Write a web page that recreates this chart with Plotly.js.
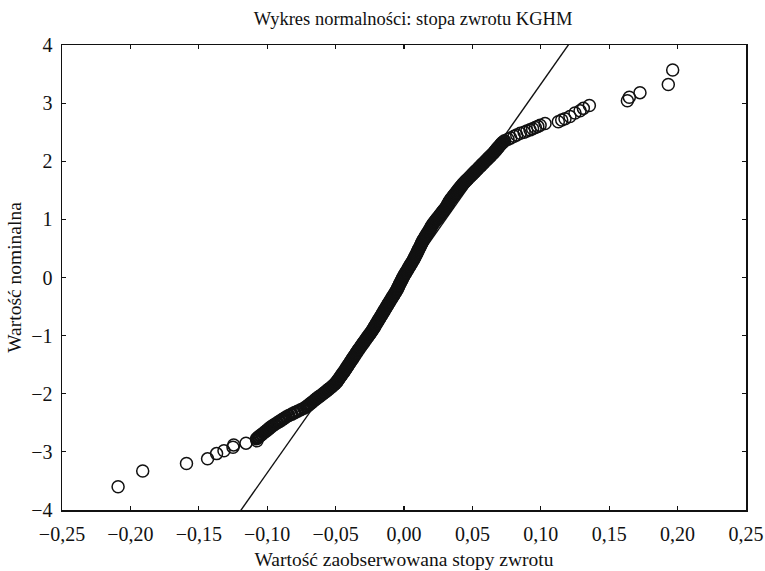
<!DOCTYPE html>
<html>
<head>
<meta charset="utf-8">
<script src="https://cdn.plot.ly/plotly-3.0.1.min.js"></script>
<style>html,body{margin:0;padding:0;background:#fff;}#chart{width:765px;height:571px;}</style>
</head>
<body>
<div id="chart"></div>
<script>
// Lower tail (observed return, normal quantile)
const lowerTailX = [-0.209, -0.191, -0.159, -0.1436, -0.137, -0.1316, -0.125, -0.1245, -0.1155, -0.1075];
const lowerTailY = [-3.60, -3.33, -3.20, -3.12, -3.03, -2.98, -2.92, -2.88, -2.85, -2.81];

// Dense body of the distribution (normal quantile, observed return)
const bodyY = [
  -2.775,-2.75,-2.725,-2.70,-2.675,-2.65,-2.625,-2.60,-2.575,-2.55,
  -2.525,-2.50,-2.475,-2.45,-2.425,-2.40,-2.375,-2.35,-2.325,-2.30,
  -2.275,-2.25,-2.225,-2.20,-2.175,-2.15,-2.125,-2.10,-2.075,-2.05,
  -2.025,-2.00,-1.975,-1.95,-1.925,-1.90,-1.875,-1.85,-1.825,-1.80,
  -1.775,-1.75,-1.725,-1.70,-1.675,-1.65,-1.625,-1.60,-1.575,-1.55,
  -1.525,-1.50,-1.475,-1.45,-1.425,-1.40,-1.375,-1.35,-1.325,-1.30,
  -1.275,-1.25,-1.225,-1.20,-1.175,-1.15,-1.125,-1.10,-1.075,-1.05,
  -1.025,-1.00,-0.975,-0.95,-0.925,-0.90,-0.875,-0.85,-0.825,-0.80,
  -0.775,-0.75,-0.725,-0.70,-0.675,-0.65,-0.625,-0.60,-0.575,-0.55,
  -0.525,-0.50,-0.475,-0.45,-0.425,-0.40,-0.375,-0.35,-0.325,-0.30,
  -0.275,-0.25,-0.225,-0.20,-0.175,-0.15,-0.125,-0.10,-0.075,-0.05,
  -0.025,0.00,0.025,0.05,0.075,0.10,0.125,0.15,0.175,0.20,
  0.225,0.25,0.275,0.30,0.325,0.35,0.375,0.40,0.425,0.45,
  0.475,0.50,0.525,0.55,0.575,0.60,0.625,0.65,0.675,0.70,
  0.725,0.75,0.775,0.80,0.825,0.85,0.875,0.90,0.925,0.95,
  0.975,1.00,1.025,1.05,1.075,1.10,1.125,1.15,1.175,1.20,
  1.225,1.25,1.275,1.30,1.325,1.35,1.375,1.40,1.425,1.45,
  1.475,1.50,1.525,1.55,1.575,1.60,1.625,1.65,1.675,1.70,
  1.725,1.75,1.775,1.80,1.825,1.85,1.875,1.90,1.925,1.95,
  1.975,2.00,2.025,2.05,2.075,2.10,2.125,2.15,2.175,2.20,
  2.225,2.25,2.275,2.30,2.325,2.35,2.38,2.40,2.43,2.45,
  2.48,2.50,2.52,2.54,2.56,2.58,2.60,2.62];
const bodyX = [
  -0.1078,-0.1066,-0.1053,-0.1040,-0.1027,-0.1013,-0.1000,-0.0987,-0.0974,-0.0960,
  -0.0944,-0.0926,-0.0910,-0.0893,-0.0878,-0.0862,-0.0842,-0.0820,-0.0799,-0.0778,
  -0.0755,-0.0732,-0.0715,-0.0700,-0.0687,-0.0674,-0.0661,-0.0648,-0.0635,-0.0620,
  -0.0606,-0.0592,-0.0578,-0.0565,-0.0552,-0.0539,-0.0526,-0.0514,-0.0503,-0.0493,
  -0.0485,-0.0478,-0.0470,-0.0463,-0.0455,-0.0448,-0.0440,-0.0433,-0.0426,-0.0419,
  -0.0412,-0.0405,-0.0398,-0.0391,-0.0384,-0.0377,-0.0370,-0.0363,-0.0356,-0.0349,
  -0.0342,-0.0335,-0.0327,-0.0320,-0.0312,-0.0305,-0.0297,-0.0290,-0.0282,-0.0275,
  -0.0267,-0.0259,-0.0251,-0.0243,-0.0236,-0.0229,-0.0222,-0.0216,-0.0210,-0.0204,
  -0.0197,-0.0191,-0.0184,-0.0178,-0.0171,-0.0165,-0.0158,-0.0152,-0.0146,-0.0140,
  -0.0133,-0.0127,-0.0120,-0.0114,-0.0107,-0.0101,-0.0094,-0.0088,-0.0081,-0.0075,
  -0.0068,-0.0062,-0.0055,-0.0049,-0.0044,-0.0039,-0.0034,-0.0029,-0.0023,-0.0018,
  -0.0013,-0.0008,-0.0002,0.0004,0.0011,0.0017,0.0024,0.0030,0.0036,0.0042,
  0.0049,0.0055,0.0062,0.0068,0.0074,0.0079,0.0085,0.0090,0.0095,0.0100,
  0.0105,0.0110,0.0116,0.0121,0.0126,0.0131,0.0136,0.0142,0.0149,0.0155,
  0.0162,0.0168,0.0175,0.0181,0.0188,0.0194,0.0200,0.0206,0.0213,0.0221,
  0.0230,0.0238,0.0247,0.0255,0.0263,0.0271,0.0280,0.0288,0.0297,0.0305,
  0.0312,0.0319,0.0324,0.0329,0.0336,0.0343,0.0352,0.0360,0.0369,0.0377,
  0.0385,0.0393,0.0402,0.0410,0.0419,0.0427,0.0437,0.0447,0.0458,0.0468,
  0.0479,0.0489,0.0500,0.0510,0.0521,0.0531,0.0542,0.0552,0.0563,0.0573,
  0.0584,0.0594,0.0605,0.0615,0.0626,0.0636,0.0647,0.0657,0.0666,0.0675,
  0.0684,0.0693,0.0702,0.0711,0.0722,0.0735,0.0760,0.0780,0.0805,0.0824,
  0.0850,0.0878,0.0898,0.0921,0.0940,0.0960,0.0978,0.0995];

// Upper tail
const upperTailX = [0.1031, 0.1128, 0.1153, 0.1177, 0.1213, 0.1250, 0.1287, 0.1311, 0.1355, 0.1633, 0.1647, 0.1725, 0.1932, 0.1964];
const upperTailY = [2.65, 2.68, 2.71, 2.73, 2.77, 2.83, 2.87, 2.91, 2.96, 3.04, 3.10, 3.18, 3.32, 3.57];

// Reference normal line parameters (mean, standard deviation of returns)
const refMean = 0.0005;
const refSd = 0.0299;
const xRange = [-0.25, 0.25];
// quantile band where the points overlap into a solid band
const denseBand = [-2.78, 2.36];

const xTickVals = [-0.25,-0.20,-0.15,-0.10,-0.05,0.00,0.05,0.10,0.15,0.20,0.25];
const xTickText = ['\u22120,25','\u22120,20','\u22120,15','\u22120,10','\u22120,05','0,00','0,05','0,10','0,15','0,20','0,25'];
const yTickVals = [-4,-3,-2,-1,0,1,2,3,4];
const yTickText = ['\u22124','\u22123','\u22122','\u22121','0','1','2','3','4'];

const allX = lowerTailX.concat(bodyX, upperTailX);
const allY = lowerTailY.concat(bodyY, upperTailY);
const denseX = [], denseY = [], sparseX = [], sparseY = [];
allY.forEach((q, i) => {
  if (q >= denseBand[0] && q <= denseBand[1]) { denseX.push(allX[i]); denseY.push(q); }
  else { sparseX.push(allX[i]); sparseY.push(q); }
});
const lineY = xRange.map(v => (v - refMean) / refSd);

const font = 'Liberation Serif, Times New Roman, serif';
const ink = '#111';

const traces = [
  {x: xRange, y: lineY, type: 'scatter', mode: 'lines', line: {color: ink, width: 1.4}, hoverinfo: 'skip'},
  {x: denseX, y: denseY, type: 'scatter', mode: 'markers',
   marker: {symbol: 'circle-open', size: 11, color: ink, line: {width: 2.6, color: ink}}},
  {x: sparseX, y: sparseY, type: 'scatter', mode: 'markers',
   marker: {symbol: 'circle-open', size: 12, color: ink, line: {width: 1.5, color: ink}}}
];

const layout = {
  width: 765, height: 571,
  margin: {l: 62, r: 19, t: 45, b: 61},
  paper_bgcolor: '#fff', plot_bgcolor: '#fff',
  showlegend: false,
  font: {family: font, color: ink, size: 20},
  title: {text: 'Wykres normalności: stopa zwrotu KGHM', font: {family: font, size: 18.5, color: ink}, x: 0.54, xanchor: 'center', y: 0.968, yanchor: 'middle'},
  xaxis: {
    range: xRange, tickvals: xTickVals, ticktext: xTickText,
    showgrid: false, zeroline: false, showline: true, mirror: 'ticks', linecolor: ink, linewidth: 1.5,
    ticks: 'inside', ticklen: 4, tickcolor: ink, tickwidth: 1.2, ticklabelstandoff: 5,
    tickfont: {family: font, size: 20, color: ink},
    title: {text: 'Wartość zaobserwowana stopy zwrotu', font: {family: font, size: 19.5, color: ink}, standoff: 9}
  },
  yaxis: {
    range: [-4, 4], tickvals: yTickVals, ticktext: yTickText,
    showgrid: false, zeroline: false, showline: true, mirror: 'ticks', linecolor: ink, linewidth: 1.5,
    ticks: 'inside', ticklen: 4, tickcolor: ink, tickwidth: 1.2, ticklabelstandoff: 4,
    tickfont: {family: font, size: 20, color: ink},
    title: {text: 'Wartość nominalna', font: {family: font, size: 19.5, color: ink}, standoff: 4}
  }
};

Plotly.newPlot('chart', traces, layout, {staticPlot: true, displayModeBar: false});
</script>
</body>
</html>
